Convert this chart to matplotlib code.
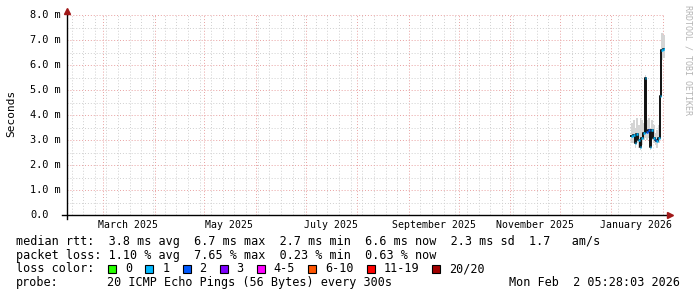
import matplotlib
matplotlib.use('Agg')
import matplotlib.pyplot as plt
import matplotlib.dates as mdates
from matplotlib.patches import Rectangle
from matplotlib.transforms import blended_transform_factory
from datetime import datetime, timedelta

# ---------------- data ----------------
end_time = datetime(2026, 2, 2, 5, 28, 3)
start_time = end_time - timedelta(days=360)

data_start = datetime(2026, 1, 13)          # first daily step
median_ms = [3.15, 3.20, 2.87, 3.23, 3.00, 2.73, 3.07, 3.27, 5.47, 3.33,
             3.40, 2.73, 3.40, 3.07, 3.00, 2.95, 3.07, 4.75, 6.60, 6.64]
smoke_lo_ms = [2.9, 2.9, 2.7, 2.9, 2.7, 2.6, 2.8, 3.0, 3.1, 3.0,
               3.1, 2.6, 3.0, 2.9, 2.8, 2.7, 2.9, 4.4, 6.2, 6.3]
smoke_hi_ms = [3.7, 3.8, 3.5, 3.9, 3.6, 3.9, 3.8, 3.7, 5.6, 3.8,
               3.9, 3.5, 3.8, 3.6, 3.3, 3.4, 3.6, 5.3, 7.3, 7.2]
loss_pings = [1, 1, 1, 1, 1, 1, 1, 1, 1, 2, 2, 1, 1, 1, 2, 1, 1, 1, 1, 1]

y_ticks = [0, 1, 2, 3, 4, 5, 6, 7, 8]
y_tick_labels = ["0.0", "1.0 m", "2.0 m", "3.0 m", "4.0 m", "5.0 m", "6.0 m", "7.0 m", "8.0 m"]
x_label_months = [(2025, 3), (2025, 5), (2025, 7), (2025, 9), (2025, 11), (2026, 1)]
x_label_texts = ["March 2025", "May 2025", "July 2025", "September 2025",
                 "November 2025", "January 2026"]

loss_bins = ["0", "1", "2", "3", "4-5", "6-10", "11-19", "20/20"]
loss_colors = ["#26ff00", "#00b8ff", "#0059ff", "#7e00ff", "#ff00ff",
               "#ff5500", "#ff0000", "#a10000"]

legend_lines = [
    "median rtt:  3.8 ms avg  6.7 ms max  2.7 ms min  6.6 ms now  2.3 ms sd  1.7   am/s",
    "packet loss: 1.10 % avg  7.65 % max  0.23 % min  0.63 % now",
]
probe_text = "20 ICMP Echo Pings (56 Bytes) every 300s"
stamp_text = "Mon Feb  2 05:28:03 2026"
watermark = "RRDTOOL / TOBI OETIKER"


def loss_index(n):
    if n <= 3:
        return n
    if n <= 5:
        return 4
    if n <= 10:
        return 5
    if n <= 19:
        return 6
    return 7


# ---------------- figure ----------------
W, H = 697, 297
fig = plt.figure(figsize=(W / 100, H / 100), dpi=100)
fig.patch.set_facecolor('white')

L, R, T, B = 67, 665, 15, 215
ax = fig.add_axes([L / W, 1 - B / H, (R - L) / W, (B - T) / H])
ax.set_facecolor('white')
for s in ax.spines.values():
    s.set_visible(False)

x0 = mdates.date2num(start_time)
x1 = mdates.date2num(end_time)
ax.set_xlim(x0, x1)
ax.set_ylim(0, 8)

# grid
ax.xaxis.set_major_locator(mdates.MonthLocator())
ax.xaxis.set_minor_locator(mdates.WeekdayLocator(byweekday=mdates.MO))
ax.set_yticks(y_ticks)
ax.set_yticks([v + 0.5 for v in y_ticks[:-1]], minor=True)
ax.tick_params(which='both', length=0, labelbottom=False, labelleft=False)
ax.grid(which='minor', color='#cfcfcf', linestyle=(0, (1, 2)), lw=0.7)
ax.grid(which='major', color='#e8a0a0', linestyle=(0, (1, 2)), lw=0.7)
ax.set_axisbelow(True)

# data
times = [mdates.date2num(data_start + timedelta(days=i)) for i in range(len(median_ms) + 1)]
lo_ext = smoke_lo_ms + [smoke_lo_ms[-1]]
hi_ext = smoke_hi_ms + [smoke_hi_ms[-1]]
med_ext = median_ms + [median_ms[-1]]
ax.fill_between(times, lo_ext, hi_ext, step='post', color='#d4d4d4', lw=0, zorder=2)
ax.step(times, med_ext, where='post', color='#111111', lw=1.4, zorder=3)
for i, v in enumerate(median_ms):
    ax.hlines(v, times[i], times[i + 1], colors=loss_colors[loss_index(loss_pings[i])],
              lw=1.8, zorder=4)

# y tick labels
mono = 'DejaVu Sans Mono'
trans_y = blended_transform_factory(fig.transFigure, ax.transData)
for v, lab in zip(y_ticks, y_tick_labels):
    ax.text(30 / W, v, lab, transform=trans_y, ha='left', va='center',
            fontfamily=mono, fontsize=7.4, color='#000000', clip_on=False)

# x labels at mid-month
trans_x = blended_transform_factory(ax.transData, fig.transFigure)
for (yy, mm), lab in zip(x_label_months, x_label_texts):
    xv = mdates.date2num(datetime(yy, mm, 16))
    ax.text(xv, 1 - 225 / H, lab, transform=trans_x, ha='center', va='center',
            fontfamily=mono, fontsize=7.1, color='#000000', clip_on=False)

# axes lines with arrows
ax.plot([-5 / 598, 1.004], [0, 0], transform=ax.transAxes, color='#000000',
        lw=1.0, clip_on=False, zorder=5)
ax.plot([0, 0], [-4 / 200, 1.015], transform=ax.transAxes, color='#000000',
        lw=1.0, clip_on=False, zorder=5)
ax.plot([1.009], [0], transform=ax.transAxes, marker='>', color='#a01818',
        markersize=4, clip_on=False, zorder=6)
ax.plot([0], [1.022], transform=ax.transAxes, marker='^', color='#a01818',
        markersize=4, clip_on=False, zorder=6)

# y axis title
fig.text(11 / W, 1 - 113 / H, "Seconds", rotation=90, ha='center', va='center',
         fontfamily=mono, fontsize=8, color='#000000')

# watermark
fig.text(688 / W, 1 - 60 / H, watermark, rotation=270, ha='center', va='center',
         fontfamily=mono, fontsize=6, color='#b4b4b4')

# legend
fs = 8.5
rows_y = [241.7, 255.3, 269.0, 282.7]
for txt, yy in zip(legend_lines, rows_y[:2]):
    fig.text(16 / W, 1 - yy / H, txt, ha='left', va='center', fontfamily=mono,
             fontsize=fs, color='#000000')
fig.text(16 / W, 1 - rows_y[2] / H, "loss color:", ha='left', va='center',
         fontfamily=mono, fontsize=fs, color='#000000')
bx = 108.3
for lab, col in zip(loss_bins, loss_colors):
    fig.patches.append(Rectangle((bx / W, 1 - 273 / H), 8 / W, 8 / H,
                                 transform=fig.transFigure, facecolor=col,
                                 edgecolor='#000000', lw=0.8))
    fig.text((bx + 17) / W, 1 - rows_y[2] / H, lab, ha='left', va='center',
             fontfamily=mono, fontsize=fs, color='#000000')
    bx = bx + 30 + len(lab) * 7.12
fig.text(16 / W, 1 - rows_y[3] / H, "probe:", ha='left', va='center',
         fontfamily=mono, fontsize=fs, color='#000000')
fig.text(107.3 / W, 1 - rows_y[3] / H, probe_text, ha='left', va='center',
         fontfamily=mono, fontsize=fs, color='#000000')
fig.text(680 / W, 1 - rows_y[3] / H, stamp_text, ha='right', va='center',
         fontfamily=mono, fontsize=fs, color='#000000')

fig.savefig('out.png', dpi=100, facecolor='white')
